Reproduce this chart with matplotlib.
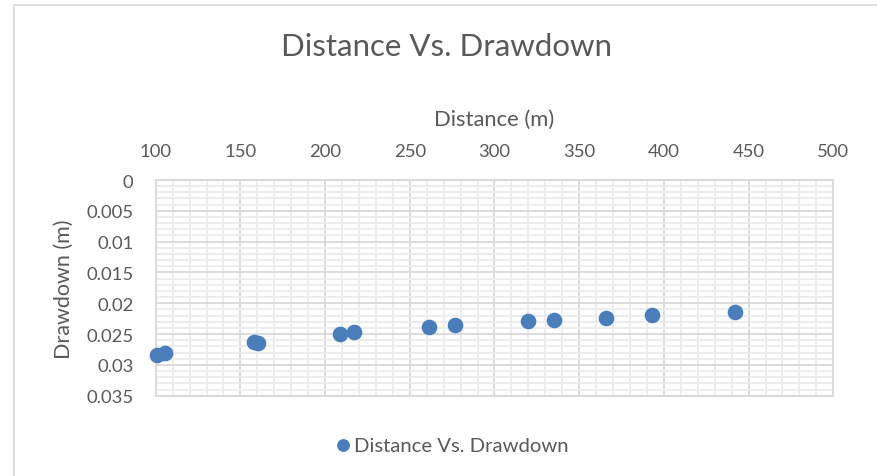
import matplotlib.pyplot as plt
from matplotlib.patches import Rectangle
from matplotlib.ticker import MultipleLocator

# values
distance = [100.8, 105.7, 158.1, 160.4, 208.6, 217.1, 261.4, 276.9,
            319.8, 335.1, 365.9, 392.9, 441.8]
drawdown = [0.02835, 0.02807, 0.02624, 0.02650, 0.02494, 0.02466, 0.02390,
            0.02358, 0.02293, 0.02272, 0.02234, 0.02186, 0.02142]

x_ticks = [100, 150, 200, 250, 300, 350, 400, 450, 500]
y_ticks = [0, 0.005, 0.01, 0.015, 0.02, 0.025, 0.03, 0.035]
y_labels = ["0", "0.005", "0.01", "0.015", "0.02", "0.025", "0.03", "0.035"]

plt.rcParams['font.family'] = ['Lato', 'DejaVu Sans']
txt = '#595959'

fig = plt.figure(figsize=(8.77, 4.77), dpi=100)
# chart border (partly cut off in the reference)
fig.patches.append(Rectangle((14.5 / 877, -0.1), 2, (477 - 6) / 477 + 0.1,
                             transform=fig.transFigure, fill=False,
                             edgecolor='#d9d9d9', lw=1.2))

ax = fig.add_axes([155.7 / 877, 1 - 396.7 / 477, (833.3 - 155.7) / 877, (396.7 - 181) / 477])

ax.scatter(distance, drawdown, s=105, color='#4a7ebb', zorder=3,
           label='Distance Vs. Drawdown', clip_on=False)

ax.set_xlim(100, 500)
ax.set_ylim(0.035, 0)
ax.xaxis.set_ticks_position('top')
ax.xaxis.set_label_position('top')
ax.set_xticks(x_ticks)
ax.set_yticks(y_ticks)
ax.set_yticklabels(y_labels)
ax.xaxis.set_minor_locator(MultipleLocator(10))
ax.yaxis.set_minor_locator(MultipleLocator(0.001))
ax.tick_params(which='both', length=0, colors=txt, labelsize=13.3)
ax.tick_params(axis='x', pad=15)
ax.tick_params(axis='y', pad=16)

ax.grid(which='major', color='#d9d9d9', lw=1.3)
ax.grid(which='minor', color='#ececec', lw=1.3)
ax.set_axisbelow(True)
for sp in ax.spines.values():
    sp.set_color('#d9d9d9')
    sp.set_linewidth(1.3)

ax.set_xlabel('Distance (m)', fontsize=15.8, color=txt, labelpad=13)
ax.set_ylabel('Drawdown (m)', fontsize=15.5, color=txt, labelpad=9)

fig.text(447 / 877, 1 - 47 / 477, 'Distance Vs. Drawdown', ha='center', va='center',
         fontsize=22.5, color=txt)

ax.legend(loc='center', bbox_to_anchor=(451 / 877, 1 - 446 / 477),
          bbox_transform=fig.transFigure, frameon=False, fontsize=14.6,
          labelcolor=txt, handletextpad=0.05, handlelength=1.0, markerscale=0.8)

fig.savefig('out.png', dpi=100)
